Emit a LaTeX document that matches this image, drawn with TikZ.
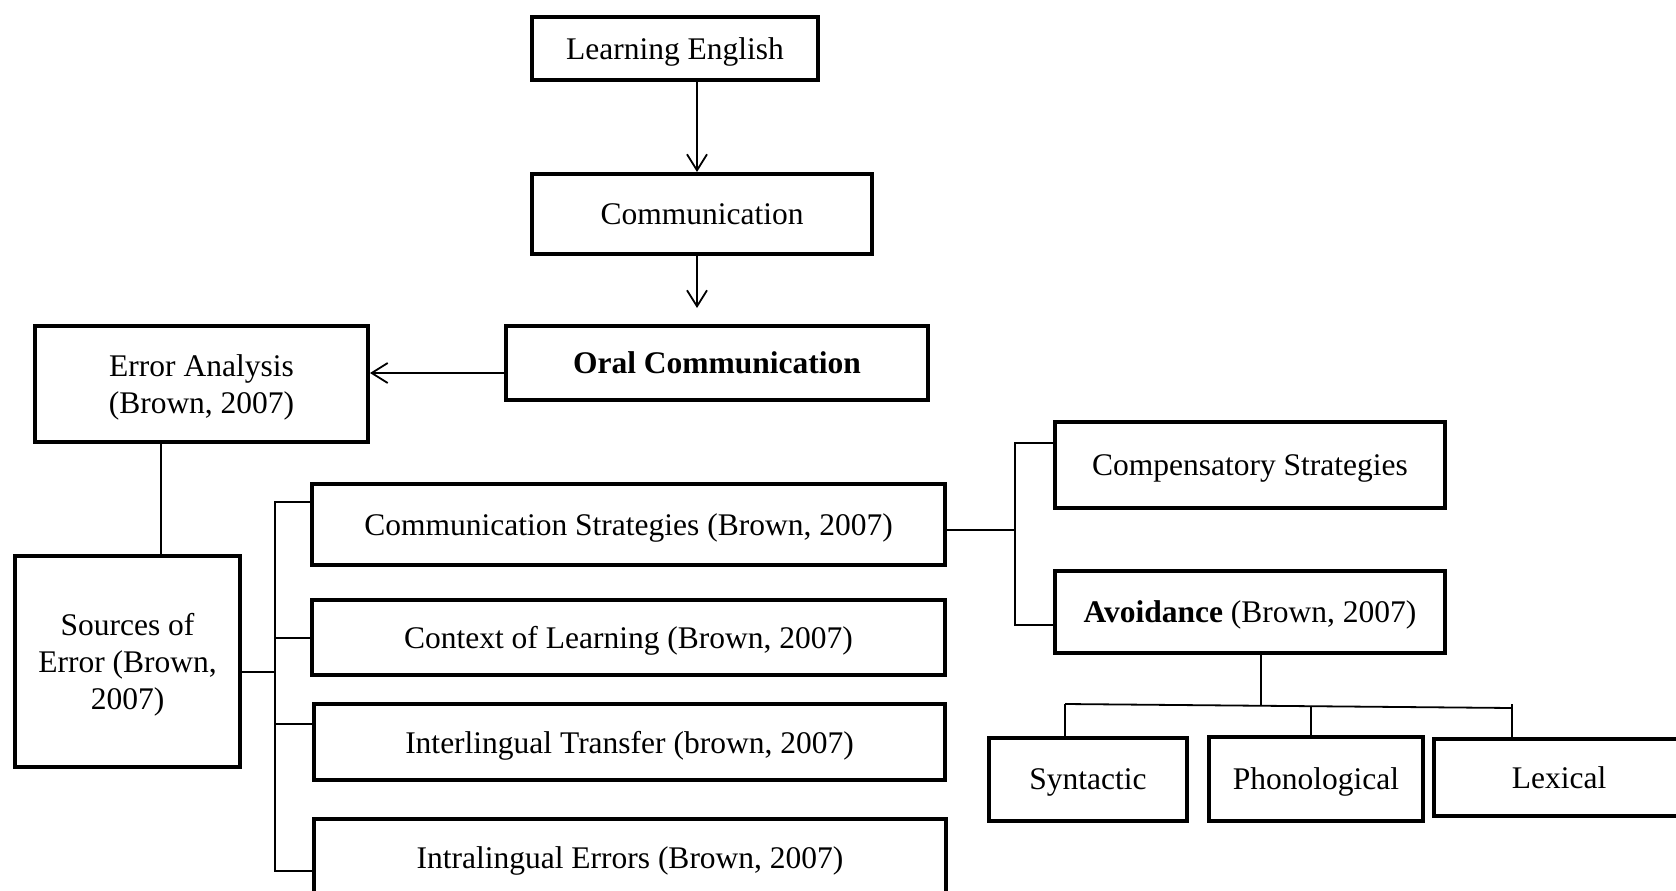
\documentclass[tikz,border=0pt]{standalone}
\usepackage{fontspec}
\setmainfont{Liberation Serif}
\usetikzlibrary{arrows.meta,calc}

\begin{document}
\begin{tikzpicture}[
  x=1pt, y=-1pt,
  font=\fontsize{31.5}{37}\selectfont,
  box/.style={draw=black, line width=4pt, rectangle, inner sep=0pt,
              align=center, text=black, text depth=0pt},
  conn/.style={draw=black, line width=1.8pt},
  arr/.style={conn, -{Straight Barb[length=16pt,width=20pt,line width=1.8pt]}}
]
\useasboundingbox (0,0) rectangle (1676,891);
\clip (0,0) rectangle (1676,891);

% main chain
\node[box, minimum width=286pt, minimum height=63pt] (learn) at (675,48.5) {Learning English};
\node[box, minimum width=340pt, minimum height=80pt] (comm)  at (702,214)  {Communication};
\node[box, minimum width=422pt, minimum height=74pt] (oral)  at (717,363)  {\bfseries Oral Communication};

% left branch
\node[box, minimum width=333pt, minimum height=116pt] (error)   at (201.5,384)   {Error Analysis\\(Brown, 2007)};
\node[box, minimum width=225pt, minimum height=211pt] (sources) at (127.5,661.5) {Sources of\\Error (Brown,\\2007)};

% sources of error
\node[box, minimum width=633pt, minimum height=81pt] (cs)  at (628.5,524.5) {Communication Strategies (Brown, 2007)};
\node[box, minimum width=633pt, minimum height=75pt] (col) at (628.5,637.5) {Context of Learning (Brown, 2007)};
\node[box, minimum width=631pt, minimum height=76pt] (it)  at (629.5,742)   {Interlingual Transfer (brown, 2007)};
\node[box, minimum width=632pt, minimum height=79pt] (ie)  at (630,858)     {Intralingual Errors (Brown, 2007)};

% communication strategies
\node[box, minimum width=390pt, minimum height=86pt] (comp)  at (1250,465) {Compensatory Strategies};
\node[box, minimum width=390pt, minimum height=82pt] (avoid) at (1250,612) {\textbf{Avoidance} (Brown, 2007)};

% kinds of avoidance
\node[box, minimum width=198pt, minimum height=83pt] (syn)  at (1088,779.5) {Syntactic};
\node[box, minimum width=214pt, minimum height=84pt] (phon) at (1316,779)   {Phonological};
\node[box, minimum width=250pt, minimum height=77pt] (lex)  at (1559,777.5) {Lexical};

% arrows down the chain
\draw[arr] ([xshift=22pt]learn.south) -- ([xshift=-5pt]comm.north);
\draw[arr, shorten >=16pt] ([xshift=-5pt]comm.south) -- ([xshift=-20pt]oral.north);
\draw[arr] ([yshift=-10pt]oral.west) -- ([yshift=-10pt]oral.west -| error.east);

% error analysis to sources of error
\coordinate (ea) at (161,0);
\draw[conn] (ea |- error.south) -- (ea |- sources.north);

% left bus
\coordinate (lT) at (275,502);
\coordinate (lS) at (275,672);
\coordinate (lC) at (275,638);
\coordinate (lI) at (275,724);
\coordinate (lB) at (275,871);
\draw[conn] (cs.west |- lT) -- (lT) -- (lB) -- (ie.west |- lB);
\draw[conn] (sources.east |- lS) -- (lS);
\draw[conn] (lC) -- (col.west |- lC);
\draw[conn] (lI) -- (it.west |- lI);

% right bus
\coordinate (rT) at (1015,443);
\coordinate (rM) at (1015,530);
\coordinate (rB) at (1015,625);
\draw[conn] (comp.west |- rT) -- (rT) -- (rB) -- (avoid.west |- rB);
\draw[conn] (cs.east |- rM) -- (rM);

% avoidance tree
\coordinate (stem) at (1261,704.5);
\coordinate (hL) at (1065,704);
\coordinate (hM) at (1311,705.7);
\coordinate (hR) at (1512,708);
\coordinate (hRt) at (1512,704);
\draw[conn] (stem |- avoid.south) -- (stem);
\draw[conn] (hL) -- (hR);
\draw[conn] (hL) -- (hL |- syn.north);
\draw[conn] (hM) -- (hM |- phon.north);
\draw[conn] (hRt) -- (hR |- lex.north);
\end{tikzpicture}
\end{document}
